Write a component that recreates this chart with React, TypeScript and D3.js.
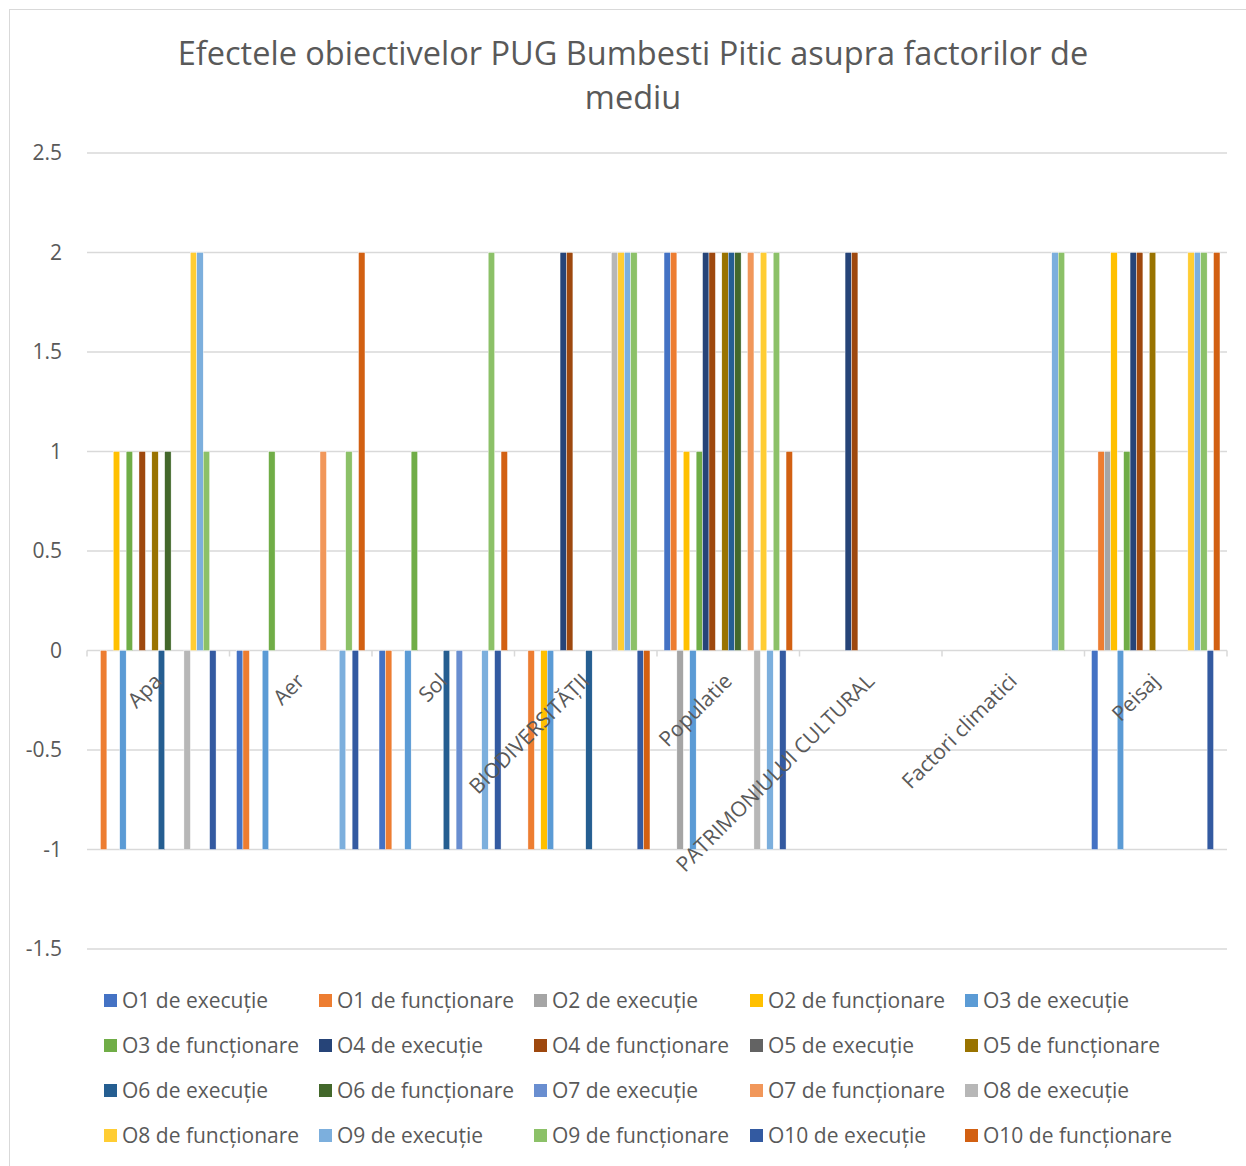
import * as d3 from "d3";

const categories = [
  "Apa",
  "Aer",
  "Sol",
  "BIODIVERSITĂȚII",
  "Populatie",
  "PATRIMONIULUI CULTURAL",
  "Factori climatici",
  "Peisaj",
];

const seriesNames = [
  "O1 de execuție", "O1 de funcționare",
  "O2 de execuție", "O2 de funcționare",
  "O3 de execuție", "O3 de funcționare",
  "O4 de execuție", "O4 de funcționare",
  "O5 de execuție", "O5 de funcționare",
  "O6 de execuție", "O6 de funcționare",
  "O7 de execuție", "O7 de funcționare",
  "O8 de execuție", "O8 de funcționare",
  "O9 de execuție", "O9 de funcționare",
  "O10 de execuție", "O10 de funcționare",
];

// Excel office palette, one colour per series
const seriesColors = [
  "#4472C4", "#ED7D31", "#A5A5A5", "#FFC000", "#5B9BD5", "#70AD47",
  "#264478", "#9E480E", "#636363", "#997300", "#255E91", "#43682B",
  "#698ED0", "#F1975A", "#B7B7B7", "#FFCD33", "#7CAFDD", "#8CC168",
  "#335AA1", "#D26012",
];

// values per category, in series order
const apa = [0, -1, 0, 1, -1, 1, 0, 1, 0, 1, -1, 1, 0, 0, -1, 2, 2, 1, -1, 0];
const aer = [-1, -1, 0, 0, -1, 1, 0, 0, 0, 0, 0, 0, 0, 1, 0, 0, -1, 1, -1, 2];
const sol = [-1, -1, 0, 0, -1, 1, 0, 0, 0, 0, -1, 0, -1, 0, 0, 0, -1, 2, -1, 1];
const biodiversitate = [0, -1, 0, -1, -1, 0, 2, 2, 0, 0, -1, 0, 0, 0, 2, 2, 2, 2, -1, -1];
const populatie = [2, 2, -1, 1, -1, 1, 2, 2, 0, 2, 2, 2, 0, 2, -1, 2, -1, 2, -1, 1];
const patrimoniu = [0, 0, 0, 0, 0, 0, 2, 2, 0, 0, 0, 0, 0, 0, 0, 0, 0, 0, 0, 0];
const climatici = [0, 0, 0, 0, 0, 0, 0, 0, 0, 0, 0, 0, 0, 0, 0, 0, 2, 2, 0, 0];
const peisaj = [-1, 1, 1, 2, -1, 1, 2, 2, 0, 2, 0, 0, 0, 0, 0, 2, 2, 2, -1, 2];

const valuesByCategory = [apa, aer, sol, biodiversitate, populatie, patrimoniu, climatici, peisaj];

const yTicks = [2.5, 2, 1.5, 1, 0.5, 0, -0.5, -1, -1.5];

const W = 1246;
const H = 1166;
const FONT = "'Open Sans', sans-serif";
const TEXT = "#595959";
const GRID = "#d9d9d9";

export default function App() {
  const plot = { left: 87, right: 1227, top: 153, bottom: 949 };

  const x = d3.scaleBand<string>().domain(categories).range([plot.left, plot.right]).padding(0);
  // Excel gap width 219%
  const xs = d3
    .scaleBand<string>()
    .domain(seriesNames)
    .range([0, x.bandwidth()])
    .paddingInner(0)
    .paddingOuter(1.095);
  const y = d3.scaleLinear().domain([-1.5, 2.5]).range([plot.bottom, plot.top]);
  const y0 = y(0);

  const legendCols = 5;
  const legendX = [104, 319, 534, 750, 965];
  const legendY = [1001, 1046, 1091, 1136];

  return (
    <svg
      width={W}
      height={H}
      style={{ position: "absolute", left: 0, top: 0, background: "#fff" }}
      fontFamily={FONT}
    >
      <rect x={9.5} y={9.5} width={W + 10} height={H + 10} fill="#fff" stroke={GRID} />

      <text x={633} y={65} textAnchor="middle" fontSize={32.5} fill={TEXT}>
        Efectele obiectivelor PUG Bumbesti Pitic asupra factorilor de
      </text>
      <text x={633} y={109} textAnchor="middle" fontSize={32.5} fill={TEXT}>
        mediu
      </text>

      {yTicks.map((t) => (
        <g key={t}>
          <line x1={plot.left} x2={plot.right} y1={y(t)} y2={y(t)} stroke={GRID} strokeWidth={1.5} />
          <text x={62} y={y(t)} dy="0.35em" textAnchor="end" fontSize={21} fill={TEXT}>
            {t}
          </text>
        </g>
      ))}

      {/* category ticks on the zero axis */}
      {d3.range(categories.length + 1).map((i) => {
        const tx = plot.left + i * x.step();
        return <line key={i} x1={tx} x2={tx} y1={y0} y2={y0 + 6} stroke={GRID} strokeWidth={1.5} />;
      })}

      {categories.map((c, ci) =>
        valuesByCategory[ci].map((v, si) =>
          v === 0 ? null : (
            <rect
              key={c + si}
              x={(x(c) ?? 0) + (xs(seriesNames[si]) ?? 0)}
              y={Math.min(y(v), y0)}
              width={xs.bandwidth()}
              height={Math.abs(y(v) - y0)}
              fill={seriesColors[si]}
              stroke="#fff"
              strokeWidth={0.4}
            />
          )
        )
      )}

      {categories.map((c) => {
        const cx = (x(c) ?? 0) + x.bandwidth() / 2 + 5;
        const cy = y0 + 32;
        return (
          <text
            key={c}
            x={cx}
            y={cy}
            textAnchor="end"
            fontSize={21}
            fill={TEXT}
            transform={`rotate(-45 ${cx} ${cy})`}
          >
            {c}
          </text>
        );
      })}

      {seriesNames.map((s, i) => {
        const col = i % legendCols;
        const row = Math.floor(i / legendCols);
        const lx = legendX[col];
        const ly = legendY[row];
        return (
          <g key={s}>
            <rect x={lx} y={ly - 7} width={13} height={13} fill={seriesColors[i]} />
            <text x={lx + 18} y={ly} dy="0.35em" fontSize={21} fill={TEXT}>
              {s}
            </text>
          </g>
        );
      })}
    </svg>
  );
}
